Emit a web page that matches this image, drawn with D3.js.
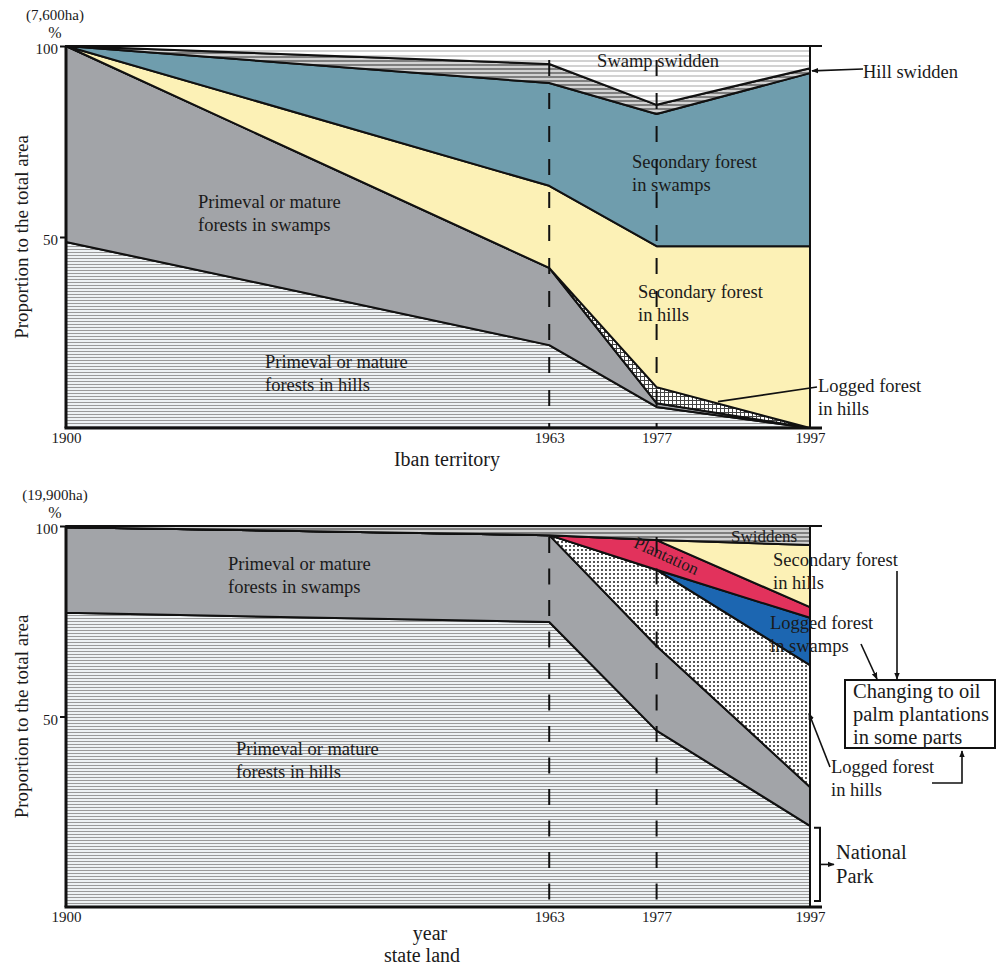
<!DOCTYPE html>
<html><head><meta charset="utf-8">
<script src="https://cdn.jsdelivr.net/npm/d3@7"></script>
<style>
body{margin:0;background:#fff;}
svg text{font-family:"Liberation Serif","Times New Roman",serif;fill:#1a1a1a;}
</style></head>
<body>
<svg id="chart" width="1002" height="965"></svg>
<script>
// ---------- data ----------
const years = [1900, 1963, 1977, 1997];
const yTickValues = [50, 100];

// Iban territory (7,600ha), % of total area
const ibanHillsPrimeval   = [48.7, 21.7, 5.5, 0];
const ibanSwampsPrimeval  = [51.3, 20.2, 1.0, 0];
const ibanLoggedHills     = [0, 0, 4.2, 0];
const ibanSecondaryHills  = [0, 21.5, 36.9, 47.6];
const ibanSecondarySwamps = [0, 26.9, 34.6, 45.3];
const ibanHillSwidden     = [0, 5.0, 2.4, 1.3];
const ibanSwampSwidden    = [0, 4.7, 15.4, 5.8];

// state land (19,900ha), % of total area
const stateHillsPrimeval  = [77.2, 74.8, 46.3, 21.3];
const stateSwampsPrimeval = [22.5, 22.8, 22.2, 10.2];
const stateLoggedHills    = [0, 0, 20.0, 32.0];
const stateLoggedSwamps   = [0, 0, 0, 12.4];
const statePlantation     = [0, 0, 7.8, 2.8];
const stateSecondaryHills = [0, 0, 0, 16.3];
const stateSwiddens       = [0.3, 2.4, 3.7, 5.0];

// ---------- drawing ----------
const svg = d3.select("#chart");
const defs = svg.append("defs");
const LBL = 18.5;

function pat(id, w, h, bg) {
  const p = defs.append("pattern").attr("id", id).attr("patternUnits", "userSpaceOnUse")
    .attr("width", w).attr("height", h);
  p.append("rect").attr("width", w).attr("height", h).attr("fill", bg);
  return p;
}
pat("hStripes", 6, 3, "#eef2f4").append("line").attr("x1", 0).attr("x2", 6).attr("y1", 0.5).attr("y2", 0.5)
  .attr("stroke", "#9a9a9a").attr("stroke-width", 1);
pat("swampSwid", 6, 5, "#ffffff").append("line").attr("x1", 0).attr("x2", 6).attr("y1", 1).attr("y2", 1)
  .attr("stroke", "#b4b4b4").attr("stroke-width", 1.2);
pat("hillSwid", 6, 4, "#d2d2d2").append("line").attr("x1", 0).attr("x2", 6).attr("y1", 1).attr("y2", 1)
  .attr("stroke", "#6a6a6a").attr("stroke-width", 1.6);
const dp = pat("dots", 4, 4, "#ffffff");
dp.append("circle").attr("cx", 2).attr("cy", 2).attr("r", 1.05).attr("fill", "#2a2a2a");
const cp = pat("checker", 4, 4, "#ffffff");
cp.append("rect").attr("width", 4).attr("height", 1).attr("fill", "#444");
cp.append("rect").attr("width", 1).attr("height", 4).attr("fill", "#444");

defs.append("marker").attr("id", "arrow").attr("viewBox", "0 0 10 10").attr("refX", 9).attr("refY", 5)
  .attr("markerWidth", 7).attr("markerHeight", 7).attr("orient", "auto-start-reverse")
  .attr("markerUnits", "userSpaceOnUse")
  .append("path").attr("d", "M0,1 L10,5 L0,9 Z").attr("fill", "#111");

function drawChart(opt) {
  const x = d3.scaleLinear().domain([years[0], years[years.length - 1]]).range([66, 810]);
  const y = d3.scaleLinear().domain([0, 100]).range([opt.bottom, opt.top]);
  const g = svg.append("g");

  const keys = opt.layers.map(l => l.key);
  const rows = years.map((yr, i) => {
    const r = {year: yr};
    opt.layers.forEach(l => r[l.key] = l.values[i]);
    return r;
  });
  const stacked = d3.stack().keys(keys)(rows);
  const area = d3.area().x(d => x(d.data.year)).y0(d => y(d[0])).y1(d => y(d[1]));

  g.selectAll("path.layer").data(stacked).join("path")
    .attr("class", "layer")
    .attr("d", area)
    .attr("fill", (d, i) => opt.layers[i].fill)
    .attr("stroke", "#111").attr("stroke-width", 2).attr("stroke-linejoin", "round");

  // dashed year guides
  opt.dashYears.forEach(yr => {
    g.append("line").attr("x1", x(yr)).attr("x2", x(yr))
      .attr("y1", opt.dashTop).attr("y2", y(0))
      .attr("stroke", "#111").attr("stroke-width", 2).attr("stroke-dasharray", opt.dash);
  });

  // frame lines
  g.append("line").attr("x1", x(1900)).attr("x2", x(1997) + 12).attr("y1", y(100)).attr("y2", y(100))
    .attr("stroke", "#111").attr("stroke-width", 2);
  g.append("line").attr("x1", x(1997)).attr("x2", x(1997)).attr("y1", y(100)).attr("y2", y(0))
    .attr("stroke", "#111").attr("stroke-width", 2);
  g.append("line").attr("x1", x(1900)).attr("x2", x(1900)).attr("y1", y(100)).attr("y2", y(0))
    .attr("stroke", "#111").attr("stroke-width", 3);
  g.append("line").attr("x1", x(1900) - 1.5).attr("x2", x(1997) + 12).attr("y1", y(0)).attr("y2", y(0))
    .attr("stroke", "#111").attr("stroke-width", 3);

  // axes
  const xa = g.append("g").attr("transform", `translate(0,${y(0)})`)
    .call(d3.axisBottom(x).tickValues(years).tickFormat(d3.format("d")).tickSize(0).tickPadding(4));
  xa.select(".domain").remove();
  xa.selectAll("text").style("font-family", '"Liberation Serif",serif').style("font-size", "15px").attr("fill", "#1a1a1a");

  const ya = g.append("g").attr("transform", `translate(${x(1900)},0)`)
    .call(d3.axisLeft(y).tickValues(yTickValues).tickSize(6).tickPadding(2));
  ya.select(".domain").remove();
  ya.selectAll("line").attr("stroke", "#111").attr("stroke-width", 2);
  ya.selectAll("text").style("font-family", '"Liberation Serif",serif').style("font-size", "15px")
    .attr("fill", "#1a1a1a").attr("dy", "0.5em");

  g.append("text").attr("x", 55).attr("y", opt.top - 26).attr("text-anchor", "middle").style("font-size", "15px").text(opt.unit);
  g.append("text").attr("x", 55).attr("y", opt.top - 8).attr("text-anchor", "middle").style("font-size", "16px").text("%");

  g.append("text").attr("transform", `translate(28,${(y(0) + y(100)) / 2}) rotate(-90)`)
    .attr("text-anchor", "middle").style("font-size", "19px").text("Proportion to the total area");

  return {g, x, y};
}

function label(g, x, y, lines, size, anchor, lh) {
  const t = g.append("text").attr("x", x).attr("y", y).attr("text-anchor", anchor || "start")
    .style("font-size", (size || LBL) + "px");
  lines.forEach((s, i) => t.append("tspan").attr("x", x).attr("dy", i ? (lh || "1.27em") : 0).text(s));
  return t;
}
function line(g, pts, arrow) {
  const p = g.append("path").attr("d", d3.line()(pts)).attr("fill", "none")
    .attr("stroke", "#111").attr("stroke-width", 1.6);
  if (arrow) p.attr("marker-end", "url(#arrow)");
}

// ---------- Top chart: Iban territory ----------
const topChart = drawChart({
  top: 46, bottom: 428, unit: "(7,600ha)",
  dashYears: [1963, 1977], dashTop: 60, dash: "16,17",
  layers: [
    {key: "hillsPrimeval", values: ibanHillsPrimeval, fill: "url(#hStripes)"},
    {key: "swampsPrimeval", values: ibanSwampsPrimeval, fill: "#a2a4a8"},
    {key: "loggedHills", values: ibanLoggedHills, fill: "url(#checker)"},
    {key: "secondaryHills", values: ibanSecondaryHills, fill: "#fcf1b6"},
    {key: "secondarySwamps", values: ibanSecondarySwamps, fill: "#6f9dad"},
    {key: "hillSwidden", values: ibanHillSwidden, fill: "url(#hillSwid)"},
    {key: "swampSwidden", values: ibanSwampSwidden, fill: "url(#swampSwid)"}
  ]
});
{
  const {g, x, y} = topChart;
  label(g, 658, 67, ["Swamp swidden"], LBL, "middle");
  label(g, 863, 78, ["Hill swidden"]);
  line(g, [[863, 69], [x(1997) + 2, y(93.5)]], true);
  label(g, 632, 168, ["Secondary forest", "in swamps"]);
  label(g, 198, 208, ["Primeval or mature", "forests in swamps"]);
  label(g, 638, 298, ["Secondary forest", "in hills"]);
  label(g, 265, 368, ["Primeval or mature", "forests in hills"]);
  label(g, 818, 392, ["Logged forest", "in hills"]);
  line(g, [[817, 387], [x(1985), y(6.9)]], false);
  g.append("text").attr("x", 447).attr("y", 466).attr("text-anchor", "middle").style("font-size", "20px").text("Iban territory");
}

// ---------- Bottom chart: state land ----------
const botChart = drawChart({
  top: 526, bottom: 907, unit: "(19,900ha)",
  dashYears: [1963, 1977], dashTop: 537, dash: "16,15.5",
  layers: [
    {key: "hillsPrimeval", values: stateHillsPrimeval, fill: "url(#hStripes)"},
    {key: "swampsPrimeval", values: stateSwampsPrimeval, fill: "#a2a4a8"},
    {key: "loggedHills", values: stateLoggedHills, fill: "url(#dots)"},
    {key: "loggedSwamps", values: stateLoggedSwamps, fill: "#1c66b1"},
    {key: "plantation", values: statePlantation, fill: "#e2325c"},
    {key: "secondaryHills", values: stateSecondaryHills, fill: "#fcf1b6"},
    {key: "swiddens", values: stateSwiddens, fill: "url(#hillSwid)"}
  ]
});
{
  const {g, x, y} = botChart;
  label(g, 228, 570, ["Primeval or mature", "forests in swamps"]);
  label(g, 236, 755, ["Primeval or mature", "forests in hills"]);
  g.append("text").attr("transform", "translate(664,561) rotate(24.5)").attr("text-anchor", "middle")
    .style("font-size", "17px").text("Plantation");
  label(g, 731, 542, ["Swiddens"], 17);
  label(g, 773, 566, ["Secondary forest", "in hills"]);
  label(g, 770, 629, ["Logged forest", "in swamps"]);
  label(g, 831, 773, ["Logged forest", "in hills"]);

  // box
  g.append("rect").attr("x", 845).attr("y", 680).attr("width", 150).attr("height", 68)
    .attr("fill", "#fff").attr("stroke", "#111").attr("stroke-width", 2);
  label(g, 853, 698, ["Changing to oil", "palm plantations", "in some parts"], 20.5, "start", "1.12em");

  line(g, [[897, 571], [897, 679]], true);
  line(g, [[861, 644], [877, 679]], true);
  line(g, [[830, 767], [x(1997) - 1, y(50.8)]], true);
  line(g, [[932, 783], [962, 783], [962, 751]], true);

  // National Park bracket
  const b0 = y(stateHillsPrimeval[3]) + 2, b1 = y(0) - 6, bx = x(1997) + 10;
  g.append("path").attr("d", `M${bx - 6},${b0} H${bx} V${b1} H${bx - 6}`)
    .attr("fill", "none").attr("stroke", "#111").attr("stroke-width", 2);
  line(g, [[bx, (b0 + b1) / 2], [bx + 14, (b0 + b1) / 2]], true);
  label(g, 836, 859, ["National", "Park"], 20.5, "start", "1.17em");

  g.append("text").attr("x", 430).attr("y", 940).attr("text-anchor", "middle").style("font-size", "20px").text("year");
  g.append("text").attr("x", 422).attr("y", 962).attr("text-anchor", "middle").style("font-size", "20px").text("state land");
}
</script>
</body></html>
